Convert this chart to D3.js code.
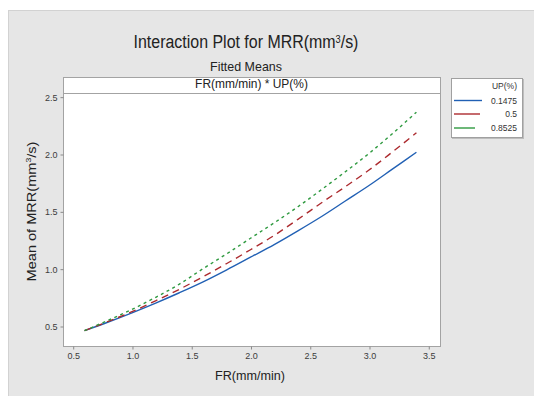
<!DOCTYPE html>
<html>
<head>
<meta charset="utf-8">
<script src="https://cdn.jsdelivr.net/npm/d3@7"></script>
<style>
  body { margin: 0; background: #fff; }
  svg { display: block; font-family: "Liberation Sans", Arial, sans-serif; }
</style>
</head>
<body>
<svg id="chart" width="534" height="396"></svg>
<script>
// FR(mm/min) values along the x axis
const frValues = [0.6, 0.8, 1.0, 1.2, 1.4, 1.6, 1.8, 2.0, 2.2, 2.4, 2.6, 2.8, 3.0, 3.2, 3.4];

// Fitted mean MRR for each UP(%) level
const mrrUp01475 = [0.46, 0.535, 0.615, 0.70, 0.79, 0.885, 0.99, 1.10, 1.21, 1.33, 1.455, 1.59, 1.725, 1.87, 2.015];
const mrrUp05    = [0.46, 0.54, 0.625, 0.72, 0.82, 0.93, 1.045, 1.165, 1.29, 1.43, 1.575, 1.715, 1.86, 2.02, 2.185];
const mrrUp08525 = [0.46, 0.55, 0.645, 0.75, 0.865, 1.0, 1.13, 1.265, 1.40, 1.54, 1.69, 1.845, 2.005, 2.18, 2.365];

const upLevels = ['0.1475', '0.5', '0.8525'];
const xTicks = [0.5, 1.0, 1.5, 2.0, 2.5, 3.0, 3.5];
const yTicks = [0.5, 1.0, 1.5, 2.0, 2.5];

const series = [
  { name: upLevels[0], values: mrrUp01475, color: '#2160b4', dash: null, legendEnd: 482 },
  { name: upLevels[1], values: mrrUp05, color: '#ac2a2e', dash: '7,5', legendEnd: 480 },
  { name: upLevels[2], values: mrrUp08525, color: '#2f9a40', dash: '3,3.5', legendEnd: 475 }
];

const svg = d3.select('#chart');

// squeeze a text element horizontally so it spans the given width
function fitWidth(sel, cx, cy, target, rotate) {
  const node = sel.node();
  const w = node.getComputedTextLength();
  const sx = target / w;
  sel.attr('x', 0).attr('y', 0).attr('text-anchor', 'middle');
  const r = rotate ? ` rotate(${rotate})` : '';
  sel.attr('transform', `translate(${cx},${cy})${r} scale(${sx},1)`);
}

// outer grey frame
svg.append('rect')
  .attr('x', 8.5).attr('y', 10.5).attr('width', 540).attr('height', 400)
  .attr('fill', '#e6e6e6').attr('stroke', '#d2d2d2');

// plot panel
const panel = { left: 63, right: 440, top: 77, header: 93, bottom: 346 };

svg.append('rect')
  .attr('x', panel.left + 0.5).attr('y', panel.top + 0.5)
  .attr('width', panel.right - panel.left).attr('height', panel.bottom - panel.top)
  .attr('fill', '#fff').attr('stroke', '#a3a3a3');

svg.append('line')
  .attr('x1', panel.left).attr('x2', panel.right + 1)
  .attr('y1', panel.header + 0.5).attr('y2', panel.header + 0.5)
  .attr('stroke', '#a3a3a3');

const x = d3.scaleLinear().domain([0.418, 3.599]).range([panel.left, panel.right]);
const y = d3.scaleLinear().domain([0.3256, 2.532]).range([panel.bottom, panel.header]);

// axes
const xAxis = svg.append('g')
  .attr('transform', `translate(0.5,${panel.bottom + 0.5})`)
  .call(d3.axisBottom(x).tickValues(xTicks).tickFormat(d3.format('.1f')).tickSize(3).tickPadding(3));
const yAxis = svg.append('g')
  .attr('transform', `translate(${panel.left + 0.5},0.5)`)
  .call(d3.axisLeft(y).tickValues(yTicks).tickFormat(d3.format('.1f')).tickSize(3).tickPadding(3));

[xAxis, yAxis].forEach(ax => {
  ax.select('.domain').remove();
  ax.selectAll('.tick line').attr('stroke', '#8a8a8a');
  ax.selectAll('.tick text')
    .attr('fill', '#3c3c3c')
    .style('font-size', '9px')
    .style('font-family', '"Liberation Sans", Arial, sans-serif');
});

// lines
const line = d3.line()
  .x((d, i) => x(frValues[i]))
  .y(d => y(d))
  .curve(d3.curveMonotoneX);

svg.append('g')
  .selectAll('path')
  .data(series)
  .join('path')
  .attr('fill', 'none')
  .attr('stroke', d => d.color)
  .attr('stroke-width', 1.4)
  .attr('stroke-dasharray', d => d.dash)
  .attr('d', d => line(d.values));

// titles
const title = svg.append('text')
  .attr('fill', '#222').style('font-size', '19px');
title.append('tspan').text('Interaction Plot for MRR(mm');
title.append('tspan').attr('baseline-shift', 'super').style('font-size', '11px').text('3');
title.append('tspan').text('/s)');
fitWidth(title, 246, 48, 225);

const subtitle = svg.append('text')
  .attr('fill', '#222').style('font-size', '13px').text('Fitted Means');
fitWidth(subtitle, 246, 70.5, 72);

const header = svg.append('text')
  .attr('fill', '#222').style('font-size', '12.5px').text('FR(mm/min) * UP(%)');
fitWidth(header, 251.5, 88, 113);

const yLabel = svg.append('text')
  .attr('fill', '#222').style('font-size', '13.5px');
yLabel.append('tspan').text('Mean of MRR(mm');
yLabel.append('tspan').attr('baseline-shift', 'super').style('font-size', '8px').text('3');
yLabel.append('tspan').text('/s)');
fitWidth(yLabel, 35.5, 211.5, 140, -90);

const xLabel = svg.append('text')
  .attr('fill', '#222').style('font-size', '13.5px').text('FR(mm/min)');
fitWidth(xLabel, 250, 379.5, 70);

// legend
const legend = svg.append('g');
legend.append('rect')
  .attr('x', 452.5).attr('y', 79.5).attr('width', 71).attr('height', 59)
  .attr('fill', 'none').attr('stroke', '#bdbdbd');
legend.append('rect')
  .attr('x', 451.5).attr('y', 78.5).attr('width', 71).attr('height', 59)
  .attr('fill', '#fff').attr('stroke', '#a0a0a0');

legend.append('text')
  .attr('x', 517).attr('y', 88.5).attr('text-anchor', 'end')
  .attr('fill', '#333').style('font-size', '8.5px').text('UP(%)');

const rowY = [100.5, 114, 128];
const items = legend.selectAll('g.item')
  .data(series)
  .join('g')
  .attr('class', 'item');

items.append('line')
  .attr('x1', 454).attr('x2', d => d.legendEnd)
  .attr('y1', (d, i) => rowY[i]).attr('y2', (d, i) => rowY[i])
  .attr('stroke', d => d.color).attr('stroke-width', 1.4);

items.append('text')
  .attr('x', 517).attr('y', (d, i) => rowY[i] + 3)
  .attr('text-anchor', 'end')
  .attr('fill', '#333').style('font-size', '8.5px')
  .text(d => d.name);
</script>
</body>
</html>
